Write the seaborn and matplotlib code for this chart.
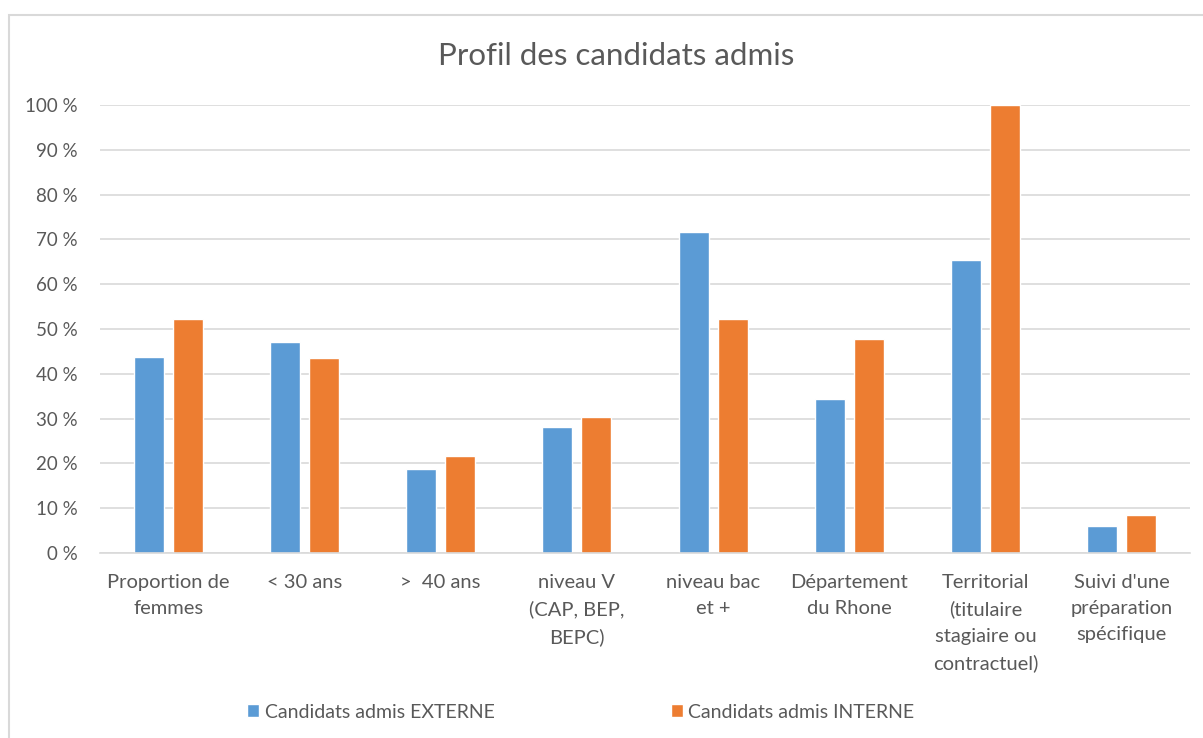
import pandas as pd
import numpy as np
import seaborn as sns
import matplotlib.pyplot as plt
from matplotlib.patches import Rectangle
from matplotlib.ticker import FuncFormatter

# ==========================================
# Data
# ==========================================

categories = [
    "Proportion de\nfemmes",
    "< 30 ans",
    ">  40 ans",
    "niveau V\n(CAP, BEP,\nBEPC)",
    "niveau bac\net +",
    "Département\ndu Rhone",
    "Territorial\n(titulaire\nstagiaire ou\ncontractuel)",
    "Suivi d'une\npréparation\nspécifique",
]
externe = [0.438, 0.470, 0.187, 0.281, 0.716, 0.343, 0.655, 0.061]
interne = [0.522, 0.435, 0.216, 0.304, 0.522, 0.478, 1.000, 0.084]
series_names = ["Candidats admis EXTERNE", "Candidats admis INTERNE"]
colors = ["#5B9BD5", "#ED7D31"]
y_ticks = [0, 0.1, 0.2, 0.3, 0.4, 0.5, 0.6, 0.7, 0.8, 0.9, 1.0]

df = pd.DataFrame({
    "categorie": categories * 2,
    "valeur": externe + interne,
    "serie": [series_names[0]] * len(categories) + [series_names[1]] * len(categories),
})

# ==========================================
# Plot
# ==========================================

sns.set_theme(style="white")
plt.rcParams["font.family"] = ["Lato", "DejaVu Sans"]
text_col = "#595959"
grid_col = "#D9D9D9"

fig = plt.figure(figsize=(12.03, 7.38), dpi=100)
ax = fig.add_axes([100 / 1203, 1 - 553 / 738, 1090 / 1203, 448 / 738])

sns.barplot(data=df, x="categorie", y="valeur", hue="serie", palette=colors,
            width=0.573, gap=0.23, saturation=1, ax=ax, legend=True)

ax.set_ylim(0, 1)
ax.set_xlim(-0.5, len(categories) - 0.5)
ax.set_yticks(y_ticks)
ax.yaxis.set_major_formatter(FuncFormatter(lambda v, p: f"{v * 100:.0f} %"))
ax.grid(axis="y", color=grid_col, linewidth=1.2)
ax.set_axisbelow(True)
for s in ["top", "right", "left"]:
    ax.spines[s].set_visible(False)
ax.spines["bottom"].set_color(grid_col)
ax.spines["bottom"].set_linewidth(1.2)
ax.tick_params(axis="y", length=0, colors=text_col, labelsize=13.5, pad=16)
ax.tick_params(axis="x", length=0, colors=text_col, labelsize=14.5, pad=15)
for lab in ax.get_xticklabels():
    lab.set_linespacing(1.66)
ax.set_xlabel("")
ax.set_ylabel("")

fig.text(616 / 1203, 1 - 56 / 738, "Profil des candidats admis", ha="center", va="center",
         fontsize=22.5, color=text_col)

handles, labels = ax.get_legend_handles_labels()
ax.get_legend().remove()
fig.legend(handles, labels, loc="center", bbox_to_anchor=(581 / 1203, 1 - 712 / 738),
           ncol=2, frameon=False, fontsize=14, labelcolor=text_col,
           handlelength=0.62, handleheight=0.62, handletextpad=0.26, columnspacing=9.1)

# chart border
fig.add_artist(Rectangle((9 / 1203, -0.05), 1.2, 1 - 15 / 738 + 0.05, transform=fig.transFigure,
                         fill=False, edgecolor="#D9D9D9", linewidth=1.5))

fig.savefig("out.png", dpi=100)
